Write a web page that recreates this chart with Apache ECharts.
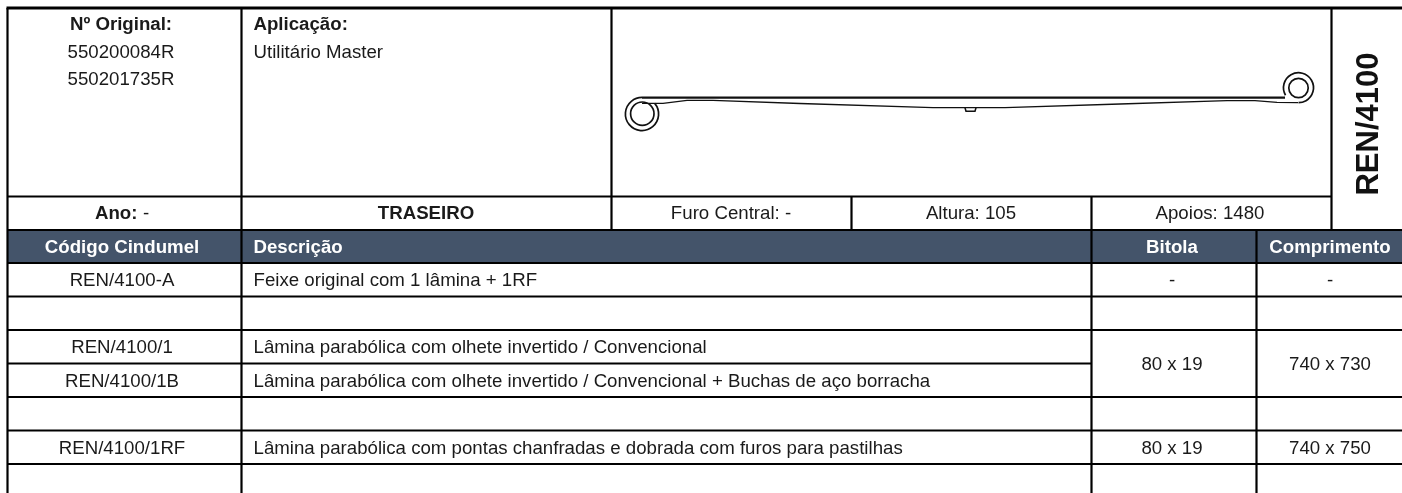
<!DOCTYPE html>
<html><head><meta charset="utf-8">
<style>html,body{margin:0;padding:0;background:#fff}#c{width:1402px;height:493px}</style>
<script src="https://cdn.jsdelivr.net/npm/echarts@6/dist/echarts.min.js"></script>
</head><body><div id="c"></div>
<script>
const originalNumbers = ['550200084R','550201735R'];
const application = 'Utilitário Master';
const infoRow = ['Ano:','-','TRASEIRO','Furo Central: -','Altura: 105','Apoios: 1480'];
const headers = ['Código Cindumel','Descrição','Bitola','Comprimento'];
const codes = ['REN/4100-A','','REN/4100/1','REN/4100/1B','','REN/4100/1RF',''];
const descriptions = ['Feixe original com 1 lâmina + 1RF','','Lâmina parabólica com olhete invertido / Convencional','Lâmina parabólica com olhete invertido / Convencional + Buchas de aço borracha','','Lâmina parabólica com pontas chanfradas e dobrada com furos para pastilhas',''];
const gauges = ['-','','80 x 19','','','80 x 19',''];
const lengths = ['-','','740 x 730','','','740 x 750',''];
const partCode = 'REN/4100';

const FONT='"Liberation Sans",Arial,sans-serif', INK='#1a1a1a', LINE='#000', HEAD='#44546a', SZ=18.67;
const X={l:7.5,a:241.5,b:611.5,c:851.5,d:1091.5,e:1256.5,f:1331.5,r:1402};
const Y={t:8,i:196.5,h:230,h2:263,end:493};
const ROW=33.5;
const els=[];
function T(x,y,text,o={}){els.push({type:'text',silent:true,x:0,y:0,z:5,style:Object.assign({x,y,text,fill:INK,font:(o.bold?'bold ':'')+SZ+'px '+FONT,textAlign:o.align||'left',textVerticalAlign:'middle'},o.style||{})});}
function L(x1,y1,x2,y2,w=2.2){els.push({type:'line',silent:true,shape:{x1,y1,x2,y2},style:{stroke:LINE,lineWidth:w},z:4});}
function PL(points,w=1.4){els.push({type:'polyline',silent:true,z:3,shape:{points},style:{fill:'none',stroke:'#111',lineWidth:w}});}
function ARC(cx,cy,r,a0,a1,w=1.7){els.push({type:'arc',silent:true,z:3,shape:{cx,cy,r,startAngle:a0*Math.PI/180,endAngle:a1*Math.PI/180,clockwise:true},style:{fill:'none',stroke:'#111',lineWidth:w}});}

els.push({type:'rect',silent:true,shape:{x:X.l,y:Y.h,width:X.r-X.l,height:Y.h2-Y.h},style:{fill:HEAD},z:1});
L(X.l-1,Y.t,X.r,Y.t,3);
L(X.l,Y.t,X.l,Y.end);
L(X.a,Y.t,X.a,Y.end);
L(X.b,Y.t,X.b,Y.h);
L(X.c,Y.i,X.c,Y.h);
L(X.d,Y.i,X.d,Y.end);
L(X.e,Y.h,X.e,Y.end);
L(X.f,Y.t,X.f,Y.h);
L(X.l,Y.i,X.f,Y.i);
L(X.l,Y.h,X.r,Y.h);
L(X.l,Y.h2,X.r,Y.h2);
codes.forEach((c,i)=>{
  const y=Y.h2+ROW*(i+1);
  if(i<codes.length-1) L(X.l,y,i===2?X.d:X.r,y);
  const m=Y.h2+ROW*i+ROW/2+1.3;
  if(c)T(122,m,c,{align:'center'});
  if(descriptions[i])T(253.5,m,descriptions[i]);
  const ym=i===2?m+ROW/2:m;
  if(gauges[i])T(1172,ym,gauges[i],{align:'center'});
  if(lengths[i])T(1330,ym,lengths[i],{align:'center'});
});
T(121,24.5,'Nº Original:',{bold:true,align:'center'});
originalNumbers.forEach((n,i)=>T(121,53+i*27,n,{align:'center'}));
T(253.5,24.5,'Aplicação:',{bold:true});
T(253.5,53,application);
T(95,214,infoRow[0],{bold:true});
T(143,214,infoRow[1]);
T(426,214,infoRow[2],{bold:true,align:'center'});
T(731,214,infoRow[3],{align:'center'});
T(971,214,infoRow[4],{align:'center'});
T(1210,214,infoRow[5],{align:'center'});
const hs={fill:'#fff'};
T(122,247.5,headers[0],{bold:true,align:'center',style:hs});
T(253.5,247.5,headers[1],{bold:true,style:hs});
T(1172,247.5,headers[2],{bold:true,align:'center',style:hs});
T(1330,247.5,headers[3],{bold:true,align:'center',style:hs});
els.push({type:'text',silent:true,x:1369,y:124,rotation:Math.PI/2,z:5,style:{x:0,y:0,text:partCode,fill:'#111',font:'bold 31px '+FONT,textAlign:'center',textVerticalAlign:'middle'}});
// leaf spring drawing
ARC(642.3,113.7,11.7,0,360);
ARC(642,114,16.6,-40,270);
PL([[642,97.7],[1285,97.7]],2.2);
PL([[642,103.3],[663,103.3],[687,100.3],[713,100.3],[800,103.5],[933,107.7],[1005,107.7],[1120,104],[1227,100.7],[1255,100.7],[1277,102.4],[1298,102.7]],1.3);
PL([[965,107.7],[966,111.3],[975,111.3],[976,107.7]],1.5);
ARC(1298.5,88,9.7,0,360);
ARC(1298.5,87.7,15,150,450);
const chart=echarts.init(document.getElementById('c'),null,{renderer:'canvas'});
chart.setOption({animation:false,backgroundColor:'#fff',graphic:{elements:els}});
</script></body></html>
